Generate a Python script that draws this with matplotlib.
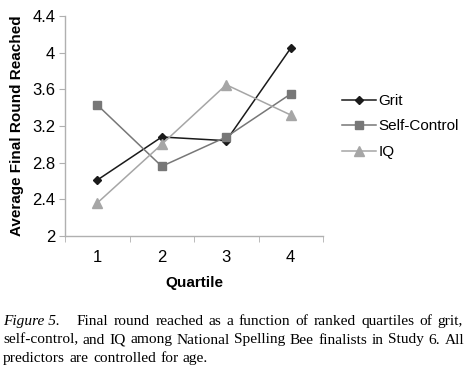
import numpy as np
import matplotlib.pyplot as plt

quartiles = [1, 2, 3, 4]
grit = [2.61, 3.08, 3.04, 4.05]
self_control = [3.43, 2.76, 3.08, 3.55]
iq = [2.36, 3.00, 3.65, 3.32]
yticks = [2, 2.4, 2.8, 3.2, 3.6, 4, 4.4]
ytick_labels = ['2', '2.4', '2.8', '3.2', '3.6', '4', '4.4']

caption = ["Final round reached as a function of ranked quartiles of grit,",
           "self-control, and IQ among National Spelling Bee finalists in Study 6. All",
           "predictors are controlled for age."]

plt.rcParams['font.family'] = ['Liberation Sans', 'DejaVu Sans']

fig = plt.figure(figsize=(4.71, 3.70), dpi=100)
ax = fig.add_axes([65/471, 1-236/370, (323-65)/471, (236-16)/370])

x = np.arange(len(quartiles))
ax.plot(x, grit, color='#1a1a1a', lw=1.1, marker='D', ms=4.5, label='Grit')
ax.plot(x, self_control, color='#777777', lw=1.1, marker='s', ms=5.5, label='Self-Control')
ax.plot(x, iq, color='#a6a6a6', lw=1.1, marker='^', ms=6.5, label='IQ')

ax.set_xlim(-0.5, 3.5)
ax.set_ylim(2, 4.4)
ax.set_yticks(yticks)
ax.set_yticklabels(ytick_labels, fontsize=12)
ax.set_xticks(x)
ax.set_xticklabels([str(q) for q in quartiles], fontsize=12)
ax.set_xticks([-0.5, 0.5, 1.5, 2.5, 3.5], minor=True)
ax.tick_params(axis='x', which='major', length=0, pad=10)
ax.tick_params(axis='x', which='minor', length=4, color='#b0b0b0', direction='out')
ax.tick_params(axis='y', length=4, color='#b0b0b0', direction='out', pad=3)
for s in ['top', 'right']:
    ax.spines[s].set_visible(False)
for s in ['left', 'bottom']:
    ax.spines[s].set_color('#b0b0b0')
    ax.spines[s].set_linewidth(1.0)

ax.set_xlabel('Quartile', fontsize=11, fontweight='bold', labelpad=8)
ax.set_ylabel('Average Final Round Reached', fontsize=11, fontweight='bold', labelpad=6)

fig.legend(loc='upper left', bbox_to_anchor=(342/471, 1-94/370), frameon=False,
           fontsize=11, handlelength=2.2, handletextpad=0.2, labelspacing=0.75,
           borderpad=0, borderaxespad=0)

# caption, justified word by word
cap_fs = 11.1
renderer = fig.canvas.get_renderer()


def put_line(words, x0, x1, y, justify):
    texts = [fig.text(x0/471, 1-y/370, w, family='Liberation Serif', fontsize=cap_fs)
             for w in words]
    widths = [t.get_window_extent(renderer).width for t in texts]
    if justify and len(words) > 1:
        gap = (x1 - x0 - sum(widths)) / (len(words) - 1)
    else:
        gap = 4.5
    pos = x0
    for t, w in zip(texts, widths):
        t.set_x(pos/471)
        pos += w + gap


fig.text(3/471, 1-325/370, 'Figure 5.', family='Liberation Serif', style='italic', fontsize=cap_fs)
put_line(caption[0].split(), 77, 463, 325, True)
put_line(caption[1].split(), 3, 464, 343.5, True)
put_line(caption[2].split(), 3, 464, 362, False)

plt.savefig('out.png', dpi=100)
